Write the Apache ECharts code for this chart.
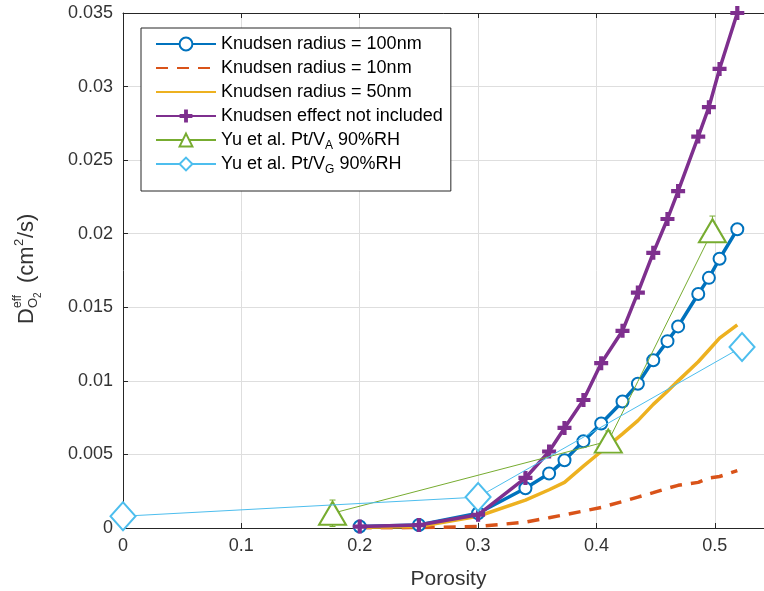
<!DOCTYPE html>
<html><head><meta charset="utf-8">
<script src="https://cdn.jsdelivr.net/npm/echarts@6/dist/echarts.min.js"></script>
<style>html,body{margin:0;padding:0;background:#fff}#c{width:764px;height:591px}</style>
</head><body><div id="c"></div>
<script>
// ---- data ----
const porosity   = [0.2, 0.25, 0.3, 0.34, 0.36, 0.373, 0.389, 0.404, 0.422, 0.435, 0.448, 0.46, 0.469, 0.486, 0.495, 0.504, 0.519];
const knudsen100 = [0.0001, 0.0002, 0.001, 0.0027, 0.0037, 0.0046, 0.0059, 0.0071, 0.0086, 0.0098, 0.0114, 0.0127, 0.0137, 0.0159, 0.0170, 0.0183, 0.0203];
const knudsen10  = [0.00001, 0.00003, 0.0001, 0.0004, 0.0007, 0.0009, 0.00115, 0.0014, 0.0018, 0.0021, 0.0024, 0.0027, 0.0029, 0.0031, 0.0034, 0.0035, 0.0039];
const knudsen50  = [0.00005, 0.0001, 0.0008, 0.0019, 0.0026, 0.0031, 0.0042, 0.0052, 0.0064, 0.0073, 0.0084, 0.0093, 0.0100, 0.0113, 0.0121, 0.0129, 0.0138];
const noKnudsen  = [0.0001, 0.0002, 0.0009, 0.0034, 0.0052, 0.0068, 0.0087, 0.0112, 0.0134, 0.0160, 0.0187, 0.0210, 0.0229, 0.0266, 0.0286, 0.0312, 0.0350];
const yuAPorosity = [0.177, 0.41, 0.498];
const yuA         = [0.0010, 0.0059, 0.0202];
const yuALow      = [0.0001, 0.0054, 0.0196];
const yuAHigh     = [0.0019, 0.0066, 0.0212];
const yuGPorosity = [0, 0.3, 0.523];
const yuG         = [0.0008, 0.0021, 0.0123];
const yuGLow      = [0.0003, 0.0014, 0.0118];
const yuGHigh     = [0.0012, 0.0028, 0.0131];
const seriesNames = ['Knudsen radius = 100nm', 'Knudsen radius = 10nm', 'Knudsen radius = 50nm',
                     'Knudsen effect not included', 'Yu et al. Pt/V_A 90%RH', 'Yu et al. Pt/V_G 90%RH'];
const xTickStep = 0.1, yTickStep = 0.005;

const C = {blue:'#0072BD', orange:'#D95319', yellow:'#EDB120', purple:'#7E2F8E', green:'#77AC30', cyan:'#4DBEEE'};
const FONT = 'Liberation Sans, Arial, sans-serif';
const pair = (xs, ys) => xs.map((x, i) => [x, ys[i]]);
const plusPath = 'path://M3.5,0H6.5V3.5H10V6.5H6.5V10H3.5V6.5H0V3.5H3.5Z';

function errorBars(name, xs, lo, hi, color) {
  return {
    type: 'custom', name: name + ' err', silent: true, z: 4, clip: false,
    data: xs.map((x, i) => [x, lo[i], hi[i]]),
    encode: {x: 0, y: [1, 2]},
    renderItem: function (params, api) {
      const a = api.coord([api.value(0), api.value(1)]);
      const b = api.coord([api.value(0), api.value(2)]);
      const w = 3, st = {stroke: color, lineWidth: 1};
      return {type: 'group', children: [
        {type: 'line', shape: {x1: a[0], y1: a[1], x2: b[0], y2: b[1]}, style: st},
        {type: 'line', shape: {x1: a[0] - w, y1: a[1], x2: a[0] + w, y2: a[1]}, style: st},
        {type: 'line', shape: {x1: b[0] - w, y1: b[1], x2: b[0] + w, y2: b[1]}, style: st}
      ]};
    }
  };
}

const chart = echarts.init(document.getElementById('c'));
const axisCol = '#262626';
const legendData = seriesNames.map((n, i) =>
  (i === 1 || i === 2) ? {name: n, itemStyle: {opacity: 0}} : {name: n});
chart.setOption({
  animation: false,
  backgroundColor: '#fff',
  grid: {left: 123, top: 13, right: -10, bottom: 63, containLabel: false, outerBoundsMode: 'none'},
  legend: {
    orient: 'vertical', left: 141, top: 28,
    padding: [4, 8, 15, 14], itemGap: 0, itemWidth: 60, itemHeight: 16,
    backgroundColor: '#fff', borderColor: axisCol, borderWidth: 1, borderRadius: 0,
    data: legendData,
    formatter: function (n) {
      return n.replace(/_(\w)/, '{sub|$1}');
    },
    textStyle: {fontFamily: FONT, fontSize: 18, color: '#000', lineHeight: 24,
      rich: {sub: {fontFamily: FONT, fontSize: 12, color: '#000', lineHeight: 12, verticalAlign: 'bottom'}}}
  },
  xAxis: [{
    type: 'value', min: 0, max: 0.55, interval: xTickStep,
    axisLine: {show: true, lineStyle: {color: axisCol, width: 1}},
    axisTick: {show: true, inside: true, length: 5, lineStyle: {color: axisCol}},
    axisLabel: {fontFamily: FONT, fontSize: 18, color: '#333', margin: 9,
      formatter: v => v > 0.5001 ? '' : String(+v.toFixed(1))},
    splitLine: {show: true, lineStyle: {color: '#dedede', width: 1}},
    name: 'Porosity', nameLocation: 'middle', nameGap: 41,
    nameTextStyle: {fontFamily: FONT, fontSize: 21, color: '#333'}
  }, {
    type: 'value', position: 'top', min: 0, max: 0.55, interval: xTickStep,
    axisLine: {show: true, lineStyle: {color: axisCol, width: 1}},
    axisTick: {show: true, inside: true, length: 5, lineStyle: {color: axisCol}},
    axisLabel: {show: false}, splitLine: {show: false}
  }],
  yAxis: [{
    type: 'value', min: 0, max: 0.035, interval: yTickStep,
    axisLine: {show: true, lineStyle: {color: axisCol, width: 1}},
    axisTick: {show: true, inside: true, length: 5, lineStyle: {color: axisCol}},
    axisLabel: {fontFamily: FONT, fontSize: 18, color: '#333', margin: 10},
    splitLine: {show: true, lineStyle: {color: '#dedede', width: 1}}
  }],
  graphic: [{
    type: 'group', x: 27, y: 324, rotation: Math.PI / 2,
    children: [
      {type: 'text', x: 0, y: 0, style: {text: 'D', font: '22px ' + FONT, fill: '#333', verticalAlign: 'middle'}},
      {type: 'text', x: 16, y: -9, style: {text: 'eff', font: '12px ' + FONT, fill: '#333', verticalAlign: 'middle'}},
      {type: 'text', x: 16, y: 6, style: {text: 'O', font: '13px ' + FONT, fill: '#333', verticalAlign: 'middle'}},
      {type: 'text', x: 26, y: 11, style: {text: '2', font: '10px ' + FONT, fill: '#333', verticalAlign: 'middle'}},
      {type: 'text', x: 41, y: 0, style: {text: '(cm', font: '22px ' + FONT, fill: '#333', verticalAlign: 'middle'}},
      {type: 'text', x: 78, y: -8, style: {text: '2', font: '13px ' + FONT, fill: '#333', verticalAlign: 'middle'}},
      {type: 'text', x: 86, y: 0, style: {text: '/s)', font: '22px ' + FONT, fill: '#333', verticalAlign: 'middle'}}
    ]
  }],
  series: [
    {name: seriesNames[0], type: 'line', data: pair(porosity, knudsen100), z: 2,
     symbol: 'emptyCircle', symbolSize: 12, color: C.blue,
     lineStyle: {color: C.blue, width: 3.5}, itemStyle: {color: C.blue, borderWidth: 3}},
    {name: seriesNames[1], type: 'line', data: pair(porosity, knudsen10), z: 2,
     symbol: 'none', color: C.orange,
     lineStyle: {color: C.orange, width: 3.5, type: [12, 9]}},
    {name: seriesNames[2], type: 'line', data: pair(porosity, knudsen50), z: 2,
     symbol: 'none', color: C.yellow,
     lineStyle: {color: C.yellow, width: 3.5}},
    {name: seriesNames[3], type: 'line', data: pair(porosity, noKnudsen), z: 3,
     symbol: plusPath, symbolSize: 14, color: C.purple,
     lineStyle: {color: C.purple, width: 3.5}, itemStyle: {color: C.purple}},
    {name: seriesNames[4], type: 'line', data: pair(yuAPorosity, yuA), z: 4,
     symbol: 'emptyTriangle', symbolSize: [27, 23], color: C.green,
     lineStyle: {color: C.green, width: 1}, itemStyle: {color: C.green, borderWidth: 1}},
    {name: seriesNames[5], type: 'line', data: pair(yuGPorosity, yuG), z: 5, clip: false,
     symbol: 'emptyDiamond', symbolSize: [25, 28], color: C.cyan,
     lineStyle: {color: C.cyan, width: 1}, itemStyle: {color: C.cyan, borderWidth: 1}},
    errorBars(seriesNames[4], yuAPorosity, yuALow, yuAHigh, C.green),
    errorBars(seriesNames[5], yuGPorosity, yuGLow, yuGHigh, C.cyan)
  ]
});
</script>
</body></html>
